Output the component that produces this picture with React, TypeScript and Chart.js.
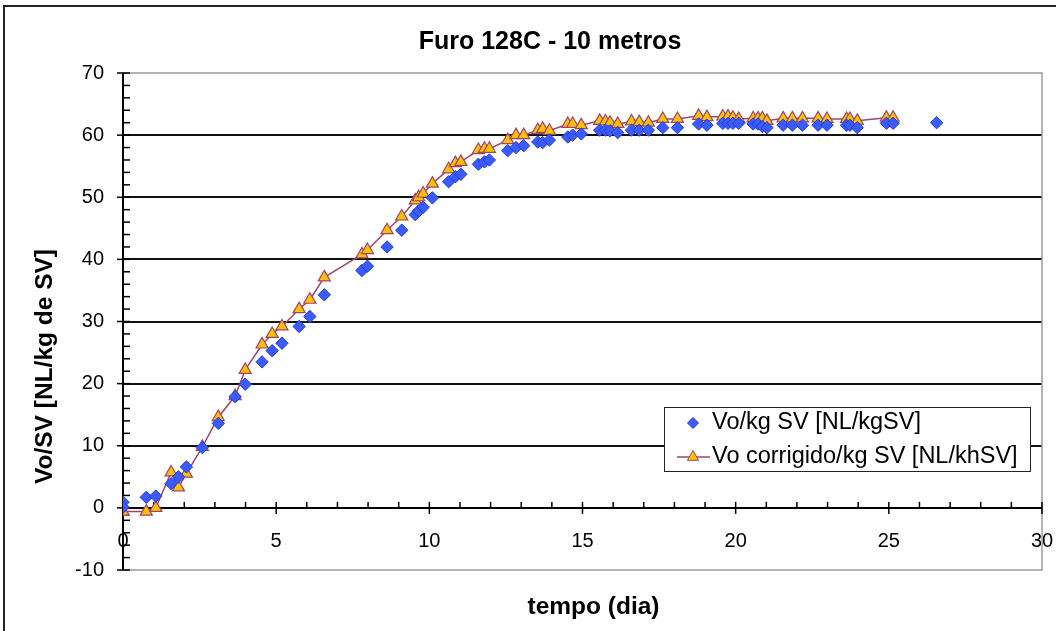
import React, { useEffect, useRef } from 'react';
import { Chart, registerables } from 'chart.js';

Chart.register(...registerables);

const chartTitle = 'Furo 128C - 10 metros';
const xAxisTitle = 'tempo (dia)';
const yAxisTitle = 'Vo/SV [NL/kg de SV]';
const seriesLabels = ['Vo/kg SV [NL/kgSV]', 'Vo corrigido/kg SV [NL/khSV]'];

// tempo (dia)
const tempo = [
  0, 0, 0.76, 1.07, 1.57, 1.81, 2.07, 2.59, 3.11, 3.66, 3.99, 4.54, 4.87, 5.19,
  5.75, 6.1, 6.57, 7.8, 7.98, 8.62, 9.1, 9.54, 9.65, 9.8, 10.1, 10.63, 10.85,
  11.03, 11.6, 11.8, 11.96, 12.56, 12.83, 13.08, 13.54, 13.7, 13.92, 14.52,
  14.68, 14.96, 15.56, 15.75, 15.9, 16.15, 16.6, 16.85, 17.15, 17.62, 18.1,
  18.79, 19.06, 19.58, 19.75, 19.91, 20.1, 20.57, 20.73, 20.87, 21.02, 21.55,
  21.85, 22.18, 22.69, 22.98, 23.62, 23.73, 23.97, 24.92, 25.14, 26.56,
];

// Vo/kg SV [NL/kgSV]
const voKg = [
  0.9, 0.1, 1.7, 1.9, 3.9, 5.0, 6.6, 9.7, 13.6, 17.9, 19.9, 23.5, 25.3, 26.5,
  29.2, 30.8, 34.3, 38.2, 38.9, 42.0, 44.7, 47.2, 47.8, 48.4, 49.9, 52.5, 53.3,
  53.7, 55.3, 55.7, 56.0, 57.5, 58.0, 58.3, 58.9, 58.8, 59.2, 59.7,
  60.0, 60.2, 60.8, 60.8, 60.7, 60.4, 60.8, 60.8, 60.8, 61.2, 61.2,
  61.8, 61.6, 61.9, 61.9, 61.9, 61.9, 61.8, 61.8, 61.4, 61.2, 61.6,
  61.6, 61.6, 61.6, 61.6, 61.6, 61.6, 61.2, 61.9, 61.9, 62.0,
];

// Vo corrigido/kg SV [NL/khSV]
const voCorrigido = [
  -0.6, -0.6, -0.6, 0.0, 5.7, 3.3, 5.5, 9.8, 14.6, 18.0, 22.2, 26.3, 28.0, 29.2,
  32.0, 33.5, 37.1, 40.8, 41.5, 44.7, 46.9, 49.5, 50.0, 50.6, 52.2, 54.5, 55.5,
  55.7, 57.6, 57.8, 57.8, 59.2, 60.0, 60.0, 60.8, 61.0, 60.7, 61.8,
  61.8, 61.6, 62.3, 62.2, 62.0, 61.8, 62.2, 62.1, 62.0, 62.6, 62.6,
  63.1, 62.9, 63.0, 63.0, 62.8, 62.6, 62.7, 62.7, 62.7, 62.3, 62.7,
  62.7, 62.7, 62.7, 62.6, 62.6, 62.6, 62.3, 62.8, 62.8, null,
];

const xMin = 0, xMax = 30, xStep = 5, xMinorStep = 1;
const yMin = -10, yMax = 70, yStep = 10, yMinorStep = 2;

const FONT = '"Liberation Sans", Arial, Helvetica, sans-serif';
const BLUE_FILL = '#3b5bff';
const BLUE_EDGE = '#1f3fd6';
const TRI_FILL = '#ffc000';
const PLUM = '#a0446e';

function strokeLine(ctx: CanvasRenderingContext2D, x1: number, y1: number, x2: number, y2: number) {
  ctx.beginPath();
  ctx.moveTo(x1, y1);
  ctx.lineTo(x2, y2);
  ctx.stroke();
}

const decorPlugin = {
  id: 'decor',
  beforeDatasetsDraw(chart: any) {
    const { ctx, chartArea: a, scales } = chart;
    const x = scales.x, y = scales.y;
    ctx.save();
    ctx.strokeStyle = '#9c9c9c';
    ctx.lineWidth = 1.5;
    ctx.strokeRect(a.left, a.top, a.right - a.left, a.bottom - a.top);
    ctx.strokeStyle = '#000';
    ctx.lineWidth = 2;
    strokeLine(ctx, a.left, a.top, a.left, a.bottom);
    const y0 = y.getPixelForValue(0);
    strokeLine(ctx, a.left, y0, a.right, y0);
    ctx.lineWidth = 1.5;
    for (let v = yMin; v <= yMax; v += yMinorStep) {
      const py = y.getPixelForValue(v);
      const major = v % yStep === 0;
      strokeLine(ctx, major ? a.left - 6 : a.left, py, a.left + 7, py);
    }
    for (let v = xMin; v <= xMax; v += xMinorStep) {
      const px = x.getPixelForValue(v);
      const major = v % xStep === 0;
      strokeLine(ctx, px, y0 - 6, px, major ? y0 + 6 : y0);
    }
    ctx.restore();
  },
  afterDraw(chart: any) {
    const { ctx, chartArea: a } = chart;
    ctx.save();
    ctx.fillStyle = '#000';
    ctx.textAlign = 'center';
    ctx.textBaseline = 'middle';
    // chart title
    ctx.font = `bold 25px ${FONT}`;
    ctx.fillText(chartTitle, 550, a.top - 31);
    // x axis title
    ctx.font = `bold 24.5px ${FONT}`;
    ctx.fillText(xAxisTitle, (a.left + a.right) / 2 + 11, a.bottom + 37);
    // y axis title
    ctx.save();
    ctx.translate(a.left - 78, (a.top + a.bottom) / 2 + 45);
    ctx.rotate(-Math.PI / 2);
    ctx.fillText(yAxisTitle, 0, 0);
    ctx.restore();

    // legend
    const bx = a.left + 541, by = a.top + 334, bw = 366, bh = 64;
    ctx.fillStyle = '#fff';
    ctx.fillRect(bx, by, bw, bh);
    ctx.strokeStyle = '#222';
    ctx.lineWidth = 1;
    ctx.strokeRect(bx + 0.5, by + 0.5, bw, bh);
    ctx.font = `23.5px ${FONT}`;
    ctx.textAlign = 'left';
    ctx.textBaseline = 'middle';
    const r1 = by + 16, r2 = by + 50, mx = bx + 29;
    // diamond
    ctx.beginPath();
    ctx.moveTo(mx, r1 - 5.5);
    ctx.lineTo(mx + 5.5, r1);
    ctx.lineTo(mx, r1 + 5.5);
    ctx.lineTo(mx - 5.5, r1);
    ctx.closePath();
    ctx.fillStyle = BLUE_FILL;
    ctx.fill();
    ctx.strokeStyle = BLUE_EDGE;
    ctx.stroke();
    // line + triangle
    ctx.strokeStyle = PLUM;
    ctx.lineWidth = 1.5;
    strokeLine(ctx, bx + 13, r2, bx + 46, r2);
    ctx.beginPath();
    ctx.moveTo(mx, r2 - 6.5);
    ctx.lineTo(mx + 5.6, r2 + 3.3);
    ctx.lineTo(mx - 5.6, r2 + 3.3);
    ctx.closePath();
    ctx.fillStyle = TRI_FILL;
    ctx.fill();
    ctx.lineWidth = 1;
    ctx.stroke();
    ctx.fillStyle = '#000';
    ctx.fillText(seriesLabels[0], bx + 48, r1);
    ctx.fillText(seriesLabels[1], bx + 48, r2);
    ctx.restore();
  },
};

export default function App() {
  const canvasRef = useRef<HTMLCanvasElement | null>(null);

  useEffect(() => {
    if (!canvasRef.current) return;
    const blue = tempo.map((t, i) => ({ x: t, y: voKg[i] }));
    const corr = tempo.map((t, i) => ({ x: t, y: voCorrigido[i] }));
    const chart = new Chart(canvasRef.current, {
      type: 'scatter',
      data: {
        datasets: [
          {
            label: seriesLabels[0],
            data: blue,
            showLine: false,
            pointStyle: 'rectRot',
            pointRadius: 6.2,
            pointBackgroundColor: BLUE_FILL,
            pointBorderColor: BLUE_EDGE,
            pointBorderWidth: 1,
          },
          {
            label: seriesLabels[1],
            data: corr,
            showLine: true,
            spanGaps: false,
            borderColor: PLUM,
            borderWidth: 1.5,
            pointStyle: 'triangle',
            pointRadius: 7,
            pointBackgroundColor: TRI_FILL,
            pointBorderColor: PLUM,
            pointBorderWidth: 1.2,
          },
        ],
      },
      options: {
        animation: false,
        responsive: false,
        maintainAspectRatio: false,
        events: [],
        layout: { padding: { left: 0, right: 14, top: 73, bottom: 61 } },
        plugins: {
          legend: { display: false },
          title: { display: false },
          tooltip: { enabled: false },
        },
        scales: {
          x: {
            type: 'linear',
            position: { y: 0 } as any,
            min: xMin,
            max: xMax,
            afterFit(scale: any) {
              scale.paddingLeft = 0;
              scale.paddingRight = 0;
            },
            grid: { display: false, drawTicks: false },
            border: { display: false },
            ticks: {
              stepSize: xStep,
              padding: 22,
              color: '#000',
              font: { family: FONT, size: 20 },
              maxRotation: 0,
            },
          },
          y: {
            type: 'linear',
            position: 'left',
            min: yMin,
            max: yMax,
            afterFit(scale: any) {
              scale.width = 123;
              scale.paddingTop = 0;
              scale.paddingBottom = 0;
            },
            grid: {
              drawTicks: false,
              lineWidth: 2,
              color: (c: any) =>
                c.tick && (c.tick.value === yMin || c.tick.value === yMax) ? 'rgba(0,0,0,0)' : '#111',
            },
            border: { display: false },
            ticks: {
              stepSize: yStep,
              padding: 19,
              color: '#000',
              font: { family: FONT, size: 20 },
            },
          },
        },
      },
      plugins: [decorPlugin],
    });
    return () => chart.destroy();
  }, []);

  return (
    <div style={{ position: 'fixed', left: 0, top: 0, width: 1056, height: 631, overflow: 'hidden', background: '#fff' }}>
      <div style={{ position: 'absolute', left: 3, top: 5, width: 1100, height: 700, border: '2px solid #222' }} />
      <canvas ref={canvasRef} width={1056} height={631} style={{ position: 'absolute', left: 0, top: 0 }} />
    </div>
  );
}
